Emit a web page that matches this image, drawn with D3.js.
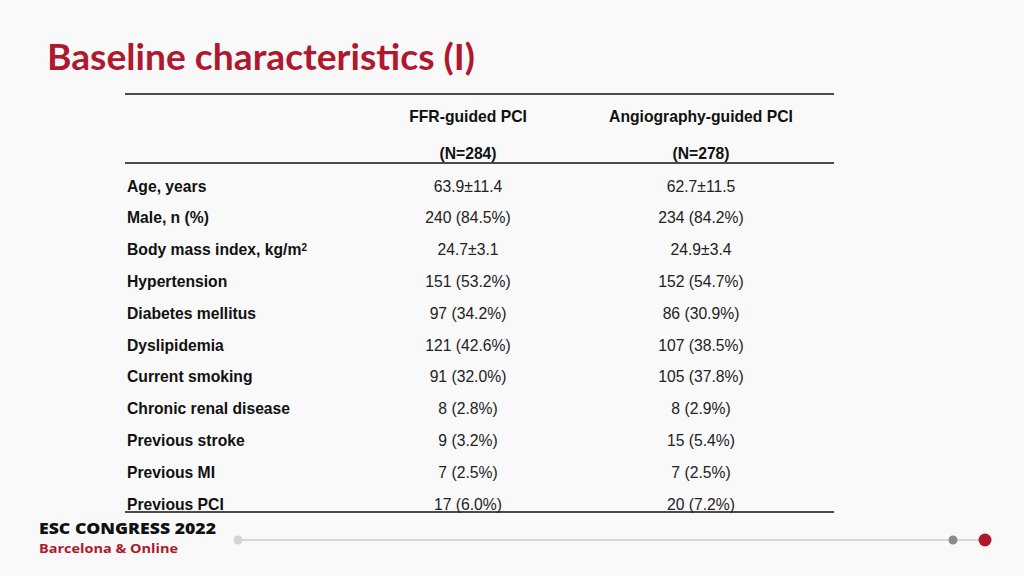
<!DOCTYPE html>
<html><head><meta charset="utf-8">
<script src="https://cdn.jsdelivr.net/npm/d3@7"></script>
<style>html,body{margin:0;padding:0;background:#f9f9f9;}svg{display:block;}</style>
</head><body>
<svg id="c" width="1024" height="576"></svg>
<script>
const title = "Baseline characteristics (I)";
const groups = ["FFR-guided PCI", "Angiography-guided PCI"];
const groupN = ["(N=284)", "(N=278)"];
const characteristics = ["Age, years","Male, n (%)","Body mass index, kg/m","Hypertension","Diabetes mellitus","Dyslipidemia","Current smoking","Chronic renal disease","Previous stroke","Previous MI","Previous PCI"];
const ffrValues = ["63.9±11.4","240 (84.5%)","24.7±3.1","151 (53.2%)","97 (34.2%)","121 (42.6%)","91 (32.0%)","8 (2.8%)","9 (3.2%)","7 (2.5%)","17 (6.0%)"];
const angioValues = ["62.7±11.5","234 (84.2%)","24.9±3.4","152 (54.7%)","86 (30.9%)","107 (38.5%)","105 (37.8%)","8 (2.9%)","15 (5.4%)","7 (2.5%)","20 (7.2%)"];

const svg = d3.select("#c");
const font = "'Liberation Sans', Arial, sans-serif";
const red = "#b0182d";
const fs = 15.7;

svg.append("rect").attr("width",1024).attr("height",576).attr("fill","#f9f9f9");

svg.append("text").attr("x",47).attr("y",70).text(title)
  .attr("font-family","Lato, 'Open Sans', sans-serif").attr("font-weight","bold")
  .attr("font-size",37).attr("fill",red).attr("textLength",428).attr("lengthAdjust","spacingAndGlyphs");

const x = d3.scalePoint().domain(groups).range([468,701]);
const y = d3.scalePoint().domain(characteristics).range([186,504]);

[94,163,512].forEach(yy=>{
  svg.append("line").attr("x1",125).attr("x2",834).attr("y1",yy).attr("y2",yy)
    .attr("stroke","#111").attr("stroke-width",1.5);
});

groups.forEach((g,i)=>{
  svg.append("text").attr("x",x(g)).attr("y",117).attr("dy","0.35em").attr("text-anchor","middle")
    .attr("font-family",font).attr("font-weight","bold").attr("font-size",fs).attr("fill","#111").text(g);
  svg.append("text").attr("x",x(g)).attr("y",154).attr("dy","0.35em").attr("text-anchor","middle")
    .attr("font-family",font).attr("font-weight","bold").attr("font-size",fs).attr("fill","#111").text(groupN[i]);
});

const rows = svg.append("g").selectAll("g").data(characteristics).join("g")
  .attr("transform",d=>`translate(0,${y(d)})`);
const lab = rows.append("text").attr("x",127).attr("dy","0.35em")
  .attr("font-family",font).attr("font-weight","bold").attr("font-size",fs).attr("fill","#111")
  .text(d=>d);
lab.filter(d=>d.endsWith("kg/m")).append("tspan").attr("dy","-0.45em").attr("font-size",10).text("2");
rows.append("text").attr("x",x(groups[0])).attr("dy","0.35em").attr("text-anchor","middle")
  .attr("font-family",font).attr("font-size",fs).attr("fill","#222").text((d,i)=>ffrValues[i]);
rows.append("text").attr("x",x(groups[1])).attr("dy","0.35em").attr("text-anchor","middle")
  .attr("font-family",font).attr("font-size",fs).attr("fill","#222").text((d,i)=>angioValues[i]);

// footer
svg.append("text").attr("x",39).attr("y",534).text("ESC CONGRESS 2022")
  .attr("font-family","'Open Sans', sans-serif").attr("font-weight",800).attr("font-size",15).attr("fill","#111")
  .attr("textLength",177).attr("lengthAdjust","spacingAndGlyphs");
svg.append("text").attr("x",39).attr("y",553).text("Barcelona & Online")
  .attr("font-family","'Open Sans', sans-serif").attr("font-weight",700).attr("font-size",13).attr("fill",red)
  .attr("textLength",139).attr("lengthAdjust","spacingAndGlyphs");
svg.append("line").attr("x1",238).attr("x2",985).attr("y1",540).attr("y2",540).attr("stroke","#d8d8d8").attr("stroke-width",2);
svg.append("circle").attr("cx",238).attr("cy",540).attr("r",4.5).attr("fill","#d4d4d4");
svg.append("circle").attr("cx",953).attr("cy",540).attr("r",4.5).attr("fill","#8a8a8a");
svg.append("circle").attr("cx",985).attr("cy",540).attr("r",6.5).attr("fill",red);
</script>
</body></html>
